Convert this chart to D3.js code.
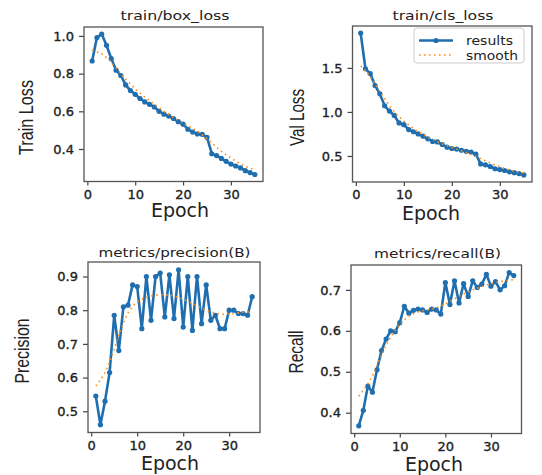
<!DOCTYPE html>
<html>
<head>
<meta charset="utf-8">
<script src="https://cdn.jsdelivr.net/npm/d3@7"></script>
<style>
  body { margin: 0; background: #fff; }
  svg { display: block; }
</style>
</head>
<body>
<svg id="chart" width="542" height="475"></svg>
<script>
// epochs on the x axis
var epochs = [1,2,3,4,5,6,7,8,9,10,11,12,13,14,15,16,17,18,19,20,21,22,23,24,25,26,27,28,29,30,31,32,33,34,35];
var xTicks = [0, 10, 20, 30];

// values
var boxLoss   = [0.867,0.991,1.010,0.950,0.880,0.818,0.790,0.740,0.710,0.690,0.668,0.650,0.637,0.623,0.600,0.585,0.575,0.562,0.545,0.532,0.505,0.490,0.480,0.478,0.462,0.375,0.365,0.350,0.335,0.320,0.310,0.300,0.285,0.275,0.265];
var boxSmooth = [0.925,0.915,0.905,0.885,0.860,0.830,0.800,0.770,0.745,0.720,0.697,0.676,0.656,0.637,0.618,0.600,0.584,0.568,0.553,0.539,0.524,0.510,0.494,0.476,0.455,0.432,0.409,0.388,0.369,0.352,0.336,0.322,0.309,0.298,0.290];
var clsLoss   = [1.895,1.490,1.435,1.300,1.205,1.070,1.010,0.960,0.875,0.855,0.800,0.775,0.750,0.725,0.695,0.665,0.660,0.630,0.600,0.585,0.578,0.565,0.553,0.545,0.520,0.410,0.400,0.380,0.355,0.345,0.335,0.320,0.310,0.300,0.285];
var clsSmooth = [1.520,1.470,1.400,1.320,1.230,1.150,1.070,1.000,0.945,0.895,0.850,0.810,0.775,0.742,0.712,0.686,0.662,0.638,0.617,0.597,0.578,0.560,0.540,0.518,0.494,0.470,0.445,0.421,0.398,0.377,0.358,0.342,0.327,0.315,0.307];
var precision  = [0.545,0.460,0.530,0.615,0.785,0.680,0.810,0.815,0.875,0.870,0.745,0.900,0.770,0.900,0.910,0.780,0.905,0.775,0.920,0.750,0.900,0.740,0.900,0.760,0.875,0.770,0.785,0.745,0.745,0.800,0.800,0.790,0.790,0.785,0.840];
var precSmooth = [0.575,0.592,0.615,0.645,0.685,0.725,0.762,0.792,0.812,0.825,0.832,0.838,0.842,0.845,0.846,0.846,0.845,0.842,0.838,0.833,0.827,0.820,0.813,0.806,0.800,0.795,0.791,0.789,0.788,0.789,0.790,0.792,0.794,0.795,0.796];
var recall    = [0.368,0.406,0.465,0.450,0.505,0.552,0.580,0.600,0.598,0.620,0.660,0.643,0.650,0.653,0.651,0.645,0.653,0.651,0.641,0.718,0.664,0.722,0.668,0.715,0.684,0.722,0.706,0.714,0.738,0.709,0.720,0.700,0.710,0.742,0.735];
var recSmooth = [0.440,0.455,0.470,0.490,0.515,0.540,0.565,0.585,0.601,0.615,0.627,0.636,0.642,0.646,0.649,0.651,0.653,0.656,0.660,0.666,0.672,0.678,0.684,0.690,0.695,0.700,0.704,0.708,0.712,0.715,0.718,0.720,0.722,0.724,0.725];

var legendLabels = ['results', 'smooth'];

var BLUE = '#1f6fb0', ORANGE = '#ff8c1a';

var panels = [
  { title: 'train/box_loss', titleW: 109, ylabel: 'Train Loss', ylabW: 75, y: boxLoss, s: boxSmooth,
    box: [84, 27, 263, 181.5], yTicks: [0.4, 0.6, 0.8, 1.0], fmt: '.1f',
    titleXY: [175, 20], xlabXY: [180, 217], ylabXY: [33, 117.5], legend: false },
  { title: 'train/cls_loss', titleW: 101, ylabel: 'Val Loss', ylabW: 57, y: clsLoss, s: clsSmooth,
    box: [352.5, 26, 532, 182], yTicks: [0.5, 1.0, 1.5], fmt: '.1f',
    titleXY: [443, 20], xlabXY: [431, 220], ylabXY: [304, 117.5], legend: true },
  { title: 'metrics/precision(B)', titleW: 152, ylabel: 'Precision', ylabW: 65, y: precision, s: precSmooth,
    box: [88, 262, 260, 432.5], yTicks: [0.5, 0.6, 0.7, 0.8, 0.9], fmt: '.1f',
    titleXY: [174.5, 257], xlabXY: [170, 470], ylabXY: [29, 351], legend: false },
  { title: 'metrics/recall(B)', titleW: 127, ylabel: 'Recall', ylabW: 43, y: recall, s: recSmooth,
    box: [351, 265, 521.5, 433.5], yTicks: [0.4, 0.5, 0.6, 0.7], fmt: '.1f',
    titleXY: [437.5, 258], xlabXY: [434, 471], ylabXY: [302.5, 352], legend: false }
];

var svg = d3.select('#chart');

panels.forEach(function (p) {
  var x0 = p.box[0], y0 = p.box[1], x1 = p.box[2], y1 = p.box[3];
  var g = svg.append('g');

  // matplotlib style 5% margins
  var xs = d3.scaleLinear().domain([1 - 0.05 * 34, 35 + 0.05 * 34]).range([x0, x1]);
  var all = p.y.concat(p.s);
  var lo = d3.min(all), hi = d3.max(all), pad = (hi - lo) * 0.05;
  var ys = d3.scaleLinear().domain([lo - pad, hi + pad]).range([y1, y0]);

  var xAxis = d3.axisBottom(xs).tickValues(xTicks).tickFormat(d3.format('d')).tickSize(4).tickPadding(4);
  var yAxis = d3.axisLeft(ys).tickValues(p.yTicks).tickFormat(d3.format(p.fmt)).tickSize(5).tickPadding(5);

  var ax = g.append('g').attr('transform', 'translate(0,' + y1 + ')').call(xAxis);
  var ay = g.append('g').attr('transform', 'translate(' + x0 + ',0)').call(yAxis);
  [ax, ay].forEach(function (a) {
    a.select('.domain').remove();
    a.selectAll('line').attr('stroke', '#444').attr('stroke-width', 1.2);
    a.selectAll('text').attr('fill', '#222').attr('stroke', '#222').attr('stroke-width', 0.35)
      .style('font-family', 'DejaVu Sans').style('font-size', '13px');
  });

  g.append('rect').attr('x', x0).attr('y', y0).attr('width', x1 - x0).attr('height', y1 - y0)
    .attr('fill', 'none').attr('stroke', '#555').attr('stroke-width', 1.3);

  var line = function (arr) {
    return d3.line().x(function (d, i) { return xs(epochs[i]); }).y(function (d) { return ys(d); })(arr);
  };

  g.append('path').attr('d', line(p.y)).attr('fill', 'none')
    .attr('stroke', BLUE).attr('stroke-width', 2.6).attr('stroke-linejoin', 'round');
  g.selectAll('circle.pt').data(p.y).enter().append('circle').attr('class', 'pt')
    .attr('cx', function (d, i) { return xs(epochs[i]); })
    .attr('cy', function (d) { return ys(d); })
    .attr('r', 2.6).attr('fill', BLUE);
  g.append('path').attr('d', line(p.s)).attr('fill', 'none')
    .attr('stroke', ORANGE).attr('stroke-width', 1.6).attr('stroke-dasharray', '1.6,3.4');

  // texts
  g.append('text').attr('x', p.titleXY[0]).attr('y', p.titleXY[1]).attr('text-anchor', 'middle')
    .attr('textLength', p.titleW).attr('lengthAdjust', 'spacingAndGlyphs')
    .style('font-family', 'DejaVu Sans').style('font-size', '13px').attr('fill', '#222').text(p.title);
  g.append('text').attr('x', p.xlabXY[0]).attr('y', p.xlabXY[1]).attr('text-anchor', 'middle')
    .style('font-family', 'DejaVu Sans').style('font-size', '19px').attr('fill', '#222').text('Epoch');
  g.append('text').attr('transform', 'translate(' + p.ylabXY[0] + ',' + p.ylabXY[1] + ') rotate(-90)')
    .attr('text-anchor', 'middle')
    .attr('textLength', p.ylabW).attr('lengthAdjust', 'spacingAndGlyphs')
    .style('font-family', '"Liberation Sans", Arial, sans-serif')
    .style('font-size', '19.5px').attr('fill', '#222').text(p.ylabel);

  if (p.legend) {
    var lg = g.append('g').attr('transform', 'translate(414,28)');
    lg.append('rect').attr('width', 110).attr('height', 35).attr('rx', 3)
      .attr('fill', '#fff').attr('fill-opacity', 0.85).attr('stroke', '#ccc');
    legendLabels.forEach(function (name, i) {
      var ly = 12.5 + i * 14.5;
      var ln = lg.append('line').attr('x1', 5).attr('x2', 39).attr('y1', ly).attr('y2', ly);
      if (i === 0) {
        ln.attr('stroke', BLUE).attr('stroke-width', 2.4);
        lg.append('circle').attr('cx', 22).attr('cy', ly).attr('r', 2.6).attr('fill', BLUE);
      } else {
        ln.attr('stroke', ORANGE).attr('stroke-width', 1.6).attr('stroke-dasharray', '1.6,3.4');
      }
      lg.append('text').attr('x', 52).attr('y', ly + 4.5)
        .attr('textLength', i === 0 ? 47 : 52).attr('lengthAdjust', 'spacingAndGlyphs')
        .style('font-family', 'DejaVu Sans').style('font-size', '12.5px').attr('fill', '#222').text(name);
    });
  }
});
</script>
</body>
</html>
